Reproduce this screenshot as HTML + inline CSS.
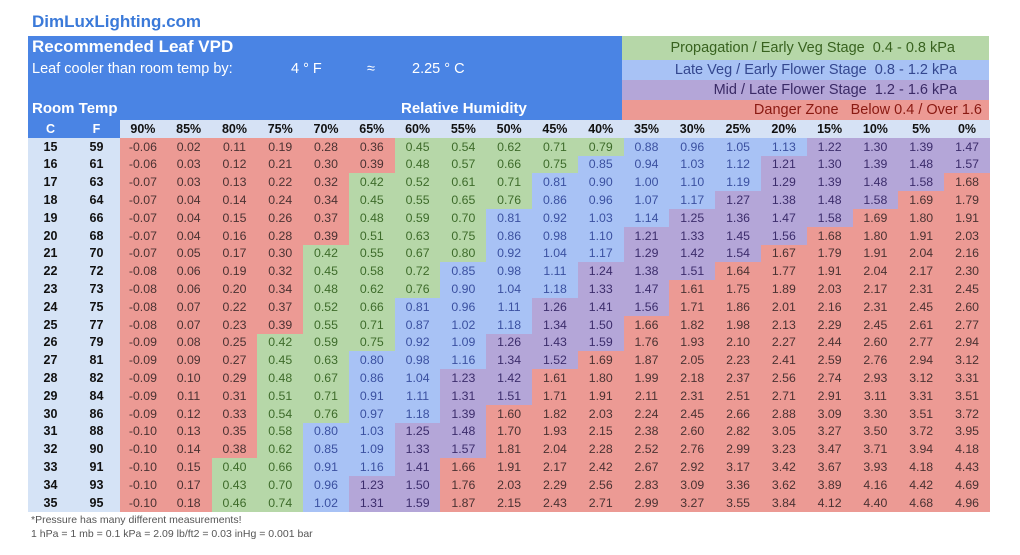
<!DOCTYPE html>
<html><head><meta charset="utf-8"><style>
body{margin:0;width:1020px;height:555px;background:#fff;font-family:"Liberation Sans",sans-serif;position:relative;overflow:hidden}
.site{position:absolute;left:32px;top:12px;font-size:17px;font-weight:bold;color:#3b7ad9}
.hdr{position:absolute;left:28px;top:36px;width:594px;height:84px;background:#4a84e4;color:#fff}
.hdr div{position:absolute;white-space:nowrap}
.leg{position:absolute;left:622px;width:367px;height:20px;font-size:14.5px;line-height:20px;text-align:right;white-space:nowrap}
table{position:absolute;left:28px;top:120px;border-collapse:collapse;table-layout:fixed;width:962px}
td{padding:0;height:17.8px;text-align:center;font-size:12.3px;color:#444;white-space:nowrap;overflow:hidden}
tr.h td{background:#d6e2f5;font-weight:bold;color:#111;font-size:12.5px}
tr.h td.c{background:#4a84e4;color:#fff}
td.c{background:#d5e3f6;font-weight:bold;color:#111;font-size:12.5px}
.r{background:#ec9a94;color:#4a3232}.g{background:#b6d7a8;color:#3d6b2a}.b{background:#a8c2f5;color:#3a50a0}.p{background:#b4a6d8;color:#3b2c6b}
.ft{position:absolute;left:31px;font-size:10.5px;color:#555}
</style></head><body>
<div class="site">DimLuxLighting.com</div>
<div class="hdr">
<div style="left:4px;top:1px;font-size:17px;font-weight:bold">Recommended Leaf VPD</div>
<div style="left:4px;top:25px;font-size:14.5px">Leaf cooler than room temp by:</div>
<div style="left:263px;top:25px;font-size:14.5px">4 ° F</div>
<div style="left:339px;top:25px;font-size:14.5px">≈</div>
<div style="left:384px;top:25px;font-size:14.5px">2.25 ° C</div>
<div style="left:4px;top:64px;font-size:15px;font-weight:bold">Room Temp</div>
<div style="left:373px;top:64px;font-size:15px;font-weight:bold">Relative Humidity</div>
</div>
<div class="leg" style="top:36px;height:24px;line-height:24px;background:#b6d7a8;color:#38621f"><span style="margin-right:34px">Propagation / Early Veg Stage&nbsp; 0.4 - 0.8 kPa</span></div>
<div class="leg" style="top:60px;background:#a8c2f5;color:#34478f"><span style="margin-right:32px">Late Veg / Early Flower Stage&nbsp; 0.8 - 1.2 kPa</span></div>
<div class="leg" style="top:80px;background:#b4a6d8;color:#3a2a66"><span style="margin-right:32px">Mid / Late Flower Stage&nbsp; 1.2 - 1.6 kPa</span></div>
<div class="leg" style="top:100px;background:#ec9a94;color:#8a1a12"><span style="margin-right:7px">Danger Zone&nbsp;&nbsp; Below 0.4 / Over 1.6</span></div>
<table>
<colgroup><col style="width:45px"><col style="width:47px"><col span="19" style="width:45.79px"></colgroup>
<tr class="h"><td class="c">C</td><td class="c">F</td><td>90%</td><td>85%</td><td>80%</td><td>75%</td><td>70%</td><td>65%</td><td>60%</td><td>55%</td><td>50%</td><td>45%</td><td>40%</td><td>35%</td><td>30%</td><td>25%</td><td>20%</td><td>15%</td><td>10%</td><td>5%</td><td>0%</td></tr>
<tr><td class="c">15</td><td class="c">59</td><td class=r>-0.06</td><td class=r>0.02</td><td class=r>0.11</td><td class=r>0.19</td><td class=r>0.28</td><td class=r>0.36</td><td class=g>0.45</td><td class=g>0.54</td><td class=g>0.62</td><td class=g>0.71</td><td class=g>0.79</td><td class=b>0.88</td><td class=b>0.96</td><td class=b>1.05</td><td class=b>1.13</td><td class=p>1.22</td><td class=p>1.30</td><td class=p>1.39</td><td class=p>1.47</td></tr>
<tr><td class="c">16</td><td class="c">61</td><td class=r>-0.06</td><td class=r>0.03</td><td class=r>0.12</td><td class=r>0.21</td><td class=r>0.30</td><td class=r>0.39</td><td class=g>0.48</td><td class=g>0.57</td><td class=g>0.66</td><td class=g>0.75</td><td class=b>0.85</td><td class=b>0.94</td><td class=b>1.03</td><td class=b>1.12</td><td class=p>1.21</td><td class=p>1.30</td><td class=p>1.39</td><td class=p>1.48</td><td class=p>1.57</td></tr>
<tr><td class="c">17</td><td class="c">63</td><td class=r>-0.07</td><td class=r>0.03</td><td class=r>0.13</td><td class=r>0.22</td><td class=r>0.32</td><td class=g>0.42</td><td class=g>0.52</td><td class=g>0.61</td><td class=g>0.71</td><td class=b>0.81</td><td class=b>0.90</td><td class=b>1.00</td><td class=b>1.10</td><td class=b>1.19</td><td class=p>1.29</td><td class=p>1.39</td><td class=p>1.48</td><td class=p>1.58</td><td class=r>1.68</td></tr>
<tr><td class="c">18</td><td class="c">64</td><td class=r>-0.07</td><td class=r>0.04</td><td class=r>0.14</td><td class=r>0.24</td><td class=r>0.34</td><td class=g>0.45</td><td class=g>0.55</td><td class=g>0.65</td><td class=g>0.76</td><td class=b>0.86</td><td class=b>0.96</td><td class=b>1.07</td><td class=b>1.17</td><td class=p>1.27</td><td class=p>1.38</td><td class=p>1.48</td><td class=p>1.58</td><td class=r>1.69</td><td class=r>1.79</td></tr>
<tr><td class="c">19</td><td class="c">66</td><td class=r>-0.07</td><td class=r>0.04</td><td class=r>0.15</td><td class=r>0.26</td><td class=r>0.37</td><td class=g>0.48</td><td class=g>0.59</td><td class=g>0.70</td><td class=b>0.81</td><td class=b>0.92</td><td class=b>1.03</td><td class=b>1.14</td><td class=p>1.25</td><td class=p>1.36</td><td class=p>1.47</td><td class=p>1.58</td><td class=r>1.69</td><td class=r>1.80</td><td class=r>1.91</td></tr>
<tr><td class="c">20</td><td class="c">68</td><td class=r>-0.07</td><td class=r>0.04</td><td class=r>0.16</td><td class=r>0.28</td><td class=r>0.39</td><td class=g>0.51</td><td class=g>0.63</td><td class=g>0.75</td><td class=b>0.86</td><td class=b>0.98</td><td class=b>1.10</td><td class=p>1.21</td><td class=p>1.33</td><td class=p>1.45</td><td class=p>1.56</td><td class=r>1.68</td><td class=r>1.80</td><td class=r>1.91</td><td class=r>2.03</td></tr>
<tr><td class="c">21</td><td class="c">70</td><td class=r>-0.07</td><td class=r>0.05</td><td class=r>0.17</td><td class=r>0.30</td><td class=g>0.42</td><td class=g>0.55</td><td class=g>0.67</td><td class=g>0.80</td><td class=b>0.92</td><td class=b>1.04</td><td class=b>1.17</td><td class=p>1.29</td><td class=p>1.42</td><td class=p>1.54</td><td class=r>1.67</td><td class=r>1.79</td><td class=r>1.91</td><td class=r>2.04</td><td class=r>2.16</td></tr>
<tr><td class="c">22</td><td class="c">72</td><td class=r>-0.08</td><td class=r>0.06</td><td class=r>0.19</td><td class=r>0.32</td><td class=g>0.45</td><td class=g>0.58</td><td class=g>0.72</td><td class=b>0.85</td><td class=b>0.98</td><td class=b>1.11</td><td class=p>1.24</td><td class=p>1.38</td><td class=p>1.51</td><td class=r>1.64</td><td class=r>1.77</td><td class=r>1.91</td><td class=r>2.04</td><td class=r>2.17</td><td class=r>2.30</td></tr>
<tr><td class="c">23</td><td class="c">73</td><td class=r>-0.08</td><td class=r>0.06</td><td class=r>0.20</td><td class=r>0.34</td><td class=g>0.48</td><td class=g>0.62</td><td class=g>0.76</td><td class=b>0.90</td><td class=b>1.04</td><td class=b>1.18</td><td class=p>1.33</td><td class=p>1.47</td><td class=r>1.61</td><td class=r>1.75</td><td class=r>1.89</td><td class=r>2.03</td><td class=r>2.17</td><td class=r>2.31</td><td class=r>2.45</td></tr>
<tr><td class="c">24</td><td class="c">75</td><td class=r>-0.08</td><td class=r>0.07</td><td class=r>0.22</td><td class=r>0.37</td><td class=g>0.52</td><td class=g>0.66</td><td class=b>0.81</td><td class=b>0.96</td><td class=b>1.11</td><td class=p>1.26</td><td class=p>1.41</td><td class=p>1.56</td><td class=r>1.71</td><td class=r>1.86</td><td class=r>2.01</td><td class=r>2.16</td><td class=r>2.31</td><td class=r>2.45</td><td class=r>2.60</td></tr>
<tr><td class="c">25</td><td class="c">77</td><td class=r>-0.08</td><td class=r>0.07</td><td class=r>0.23</td><td class=r>0.39</td><td class=g>0.55</td><td class=g>0.71</td><td class=b>0.87</td><td class=b>1.02</td><td class=b>1.18</td><td class=p>1.34</td><td class=p>1.50</td><td class=r>1.66</td><td class=r>1.82</td><td class=r>1.98</td><td class=r>2.13</td><td class=r>2.29</td><td class=r>2.45</td><td class=r>2.61</td><td class=r>2.77</td></tr>
<tr><td class="c">26</td><td class="c">79</td><td class=r>-0.09</td><td class=r>0.08</td><td class=r>0.25</td><td class=g>0.42</td><td class=g>0.59</td><td class=g>0.75</td><td class=b>0.92</td><td class=b>1.09</td><td class=p>1.26</td><td class=p>1.43</td><td class=p>1.59</td><td class=r>1.76</td><td class=r>1.93</td><td class=r>2.10</td><td class=r>2.27</td><td class=r>2.44</td><td class=r>2.60</td><td class=r>2.77</td><td class=r>2.94</td></tr>
<tr><td class="c">27</td><td class="c">81</td><td class=r>-0.09</td><td class=r>0.09</td><td class=r>0.27</td><td class=g>0.45</td><td class=g>0.63</td><td class=b>0.80</td><td class=b>0.98</td><td class=b>1.16</td><td class=p>1.34</td><td class=p>1.52</td><td class=r>1.69</td><td class=r>1.87</td><td class=r>2.05</td><td class=r>2.23</td><td class=r>2.41</td><td class=r>2.59</td><td class=r>2.76</td><td class=r>2.94</td><td class=r>3.12</td></tr>
<tr><td class="c">28</td><td class="c">82</td><td class=r>-0.09</td><td class=r>0.10</td><td class=r>0.29</td><td class=g>0.48</td><td class=g>0.67</td><td class=b>0.86</td><td class=b>1.04</td><td class=p>1.23</td><td class=p>1.42</td><td class=r>1.61</td><td class=r>1.80</td><td class=r>1.99</td><td class=r>2.18</td><td class=r>2.37</td><td class=r>2.56</td><td class=r>2.74</td><td class=r>2.93</td><td class=r>3.12</td><td class=r>3.31</td></tr>
<tr><td class="c">29</td><td class="c">84</td><td class=r>-0.09</td><td class=r>0.11</td><td class=r>0.31</td><td class=g>0.51</td><td class=g>0.71</td><td class=b>0.91</td><td class=b>1.11</td><td class=p>1.31</td><td class=p>1.51</td><td class=r>1.71</td><td class=r>1.91</td><td class=r>2.11</td><td class=r>2.31</td><td class=r>2.51</td><td class=r>2.71</td><td class=r>2.91</td><td class=r>3.11</td><td class=r>3.31</td><td class=r>3.51</td></tr>
<tr><td class="c">30</td><td class="c">86</td><td class=r>-0.09</td><td class=r>0.12</td><td class=r>0.33</td><td class=g>0.54</td><td class=g>0.76</td><td class=b>0.97</td><td class=b>1.18</td><td class=p>1.39</td><td class=r>1.60</td><td class=r>1.82</td><td class=r>2.03</td><td class=r>2.24</td><td class=r>2.45</td><td class=r>2.66</td><td class=r>2.88</td><td class=r>3.09</td><td class=r>3.30</td><td class=r>3.51</td><td class=r>3.72</td></tr>
<tr><td class="c">31</td><td class="c">88</td><td class=r>-0.10</td><td class=r>0.13</td><td class=r>0.35</td><td class=g>0.58</td><td class=b>0.80</td><td class=b>1.03</td><td class=p>1.25</td><td class=p>1.48</td><td class=r>1.70</td><td class=r>1.93</td><td class=r>2.15</td><td class=r>2.38</td><td class=r>2.60</td><td class=r>2.82</td><td class=r>3.05</td><td class=r>3.27</td><td class=r>3.50</td><td class=r>3.72</td><td class=r>3.95</td></tr>
<tr><td class="c">32</td><td class="c">90</td><td class=r>-0.10</td><td class=r>0.14</td><td class=r>0.38</td><td class=g>0.62</td><td class=b>0.85</td><td class=b>1.09</td><td class=p>1.33</td><td class=p>1.57</td><td class=r>1.81</td><td class=r>2.04</td><td class=r>2.28</td><td class=r>2.52</td><td class=r>2.76</td><td class=r>2.99</td><td class=r>3.23</td><td class=r>3.47</td><td class=r>3.71</td><td class=r>3.94</td><td class=r>4.18</td></tr>
<tr><td class="c">33</td><td class="c">91</td><td class=r>-0.10</td><td class=r>0.15</td><td class=g>0.40</td><td class=g>0.66</td><td class=b>0.91</td><td class=b>1.16</td><td class=p>1.41</td><td class=r>1.66</td><td class=r>1.91</td><td class=r>2.17</td><td class=r>2.42</td><td class=r>2.67</td><td class=r>2.92</td><td class=r>3.17</td><td class=r>3.42</td><td class=r>3.67</td><td class=r>3.93</td><td class=r>4.18</td><td class=r>4.43</td></tr>
<tr><td class="c">34</td><td class="c">93</td><td class=r>-0.10</td><td class=r>0.17</td><td class=g>0.43</td><td class=g>0.70</td><td class=b>0.96</td><td class=p>1.23</td><td class=p>1.50</td><td class=r>1.76</td><td class=r>2.03</td><td class=r>2.29</td><td class=r>2.56</td><td class=r>2.83</td><td class=r>3.09</td><td class=r>3.36</td><td class=r>3.62</td><td class=r>3.89</td><td class=r>4.16</td><td class=r>4.42</td><td class=r>4.69</td></tr>
<tr><td class="c">35</td><td class="c">95</td><td class=r>-0.10</td><td class=r>0.18</td><td class=g>0.46</td><td class=g>0.74</td><td class=b>1.02</td><td class=p>1.31</td><td class=p>1.59</td><td class=r>1.87</td><td class=r>2.15</td><td class=r>2.43</td><td class=r>2.71</td><td class=r>2.99</td><td class=r>3.27</td><td class=r>3.55</td><td class=r>3.84</td><td class=r>4.12</td><td class=r>4.40</td><td class=r>4.68</td><td class=r>4.96</td></tr>
</table>
<div class="ft" style="top:514px">*Pressure has many different measurements!</div>
<div class="ft" style="top:528px">1 hPa = 1 mb = 0.1 kPa = 2.09 lb/ft2 = 0.03 inHg = 0.001 bar</div>
</body></html>
